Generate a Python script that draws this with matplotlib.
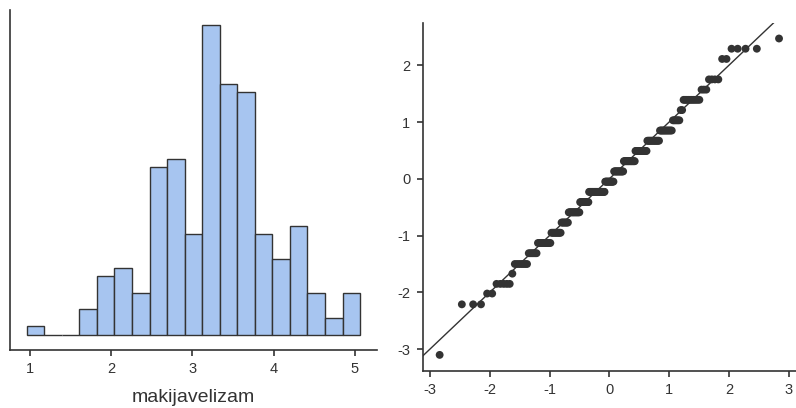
import numpy as np
import matplotlib
matplotlib.use("Agg")
import matplotlib.pyplot as plt
from statistics import NormalDist

plt.rcParams['font.family'] = ['Liberation Sans', 'DejaVu Sans']
plt.rcParams['axes.unicode_minus'] = False

# histogram of makijavelizam (counts per bin)
bin_lo, bin_hi = 0.963, 5.063
hist_counts = [1, 0, 0, 3, 7, 8, 5, 20, 21, 12, 37, 30, 29, 12, 9, 13, 5, 2, 5]

# Q-Q plot: standardized residual levels and how many cases sit on each
resid_levels = [-3.10, -2.21, -2.02, -1.85, -1.67, -1.50, -1.31, -1.13, -0.95,
                -0.77, -0.59, -0.41, -0.23, -0.05, 0.13, 0.31, 0.49, 0.67,
                0.85, 1.03, 1.21, 1.39, 1.57, 1.75, 2.11, 2.29, 2.47]
resid_counts = [1, 3, 2, 5, 1, 7, 6, 11, 10, 8, 14, 12, 23, 13, 14, 16, 15, 14,
                12, 6, 2, 10, 3, 4, 2, 4, 1]

hist_ticks = [1, 2, 3, 4, 5]
qq_ticks = [-3, -2, -1, 0, 1, 2, 3]
qq_yticks = [-3, -2, -1, 0, 1, 2]

dark = '#333333'
bar_fill = '#a7c5f0'

fig = plt.figure(figsize=(7.96, 4.08), dpi=100)
ax1 = fig.add_axes([0.0126, 0.1422, 0.4607, 0.8333])
ax2 = fig.add_axes([0.531, 0.0914, 0.469, 0.853])

# --- histogram ---
edges = np.linspace(bin_lo, bin_hi, len(hist_counts) + 1)
ax1.bar(edges[:-1], hist_counts, width=np.diff(edges), align='edge',
        color=bar_fill, edgecolor=dark, linewidth=1.0)
span = bin_hi - bin_lo
ax1.set_xlim(bin_lo - 0.05 * span, bin_hi + 0.05 * span)
top = max(hist_counts)
ax1.set_ylim(-0.05 * top, top * 1.05)
ax1.set_xticks(hist_ticks)
ax1.set_yticks([])
ax1.set_xlabel('makijavelizam', fontsize=14, color=dark, labelpad=9)

# --- Q-Q plot ---
sample = np.repeat(resid_levels, resid_counts)
n = len(sample)
theo = np.array([NormalDist().inv_cdf((i - 0.5) / n) for i in range(1, n + 1)])
ax2.scatter(theo, np.sort(sample), s=32, color=dark, edgecolors='none', zorder=3)
xr = theo.max() - theo.min()
yr = sample.max() - sample.min()
ax2.set_xlim(theo.min() - 0.05 * xr, theo.max() + 0.05 * xr)
ax2.set_ylim(sample.min() - 0.05 * yr, sample.max() + 0.05 * yr)
ax2.axline((0, 0), slope=1, color=dark, linewidth=1.0, zorder=2)
ax2.set_xticks(qq_ticks)
ax2.set_yticks(qq_yticks)

for ax in (ax1, ax2):
    for side in ('top', 'right'):
        ax.spines[side].set_visible(False)
    for side in ('left', 'bottom'):
        ax.spines[side].set_color(dark)
        ax.spines[side].set_linewidth(1.2)
    ax.tick_params(colors=dark, labelsize=10.5, length=4, width=1.2, pad=5)

fig.savefig('out.png', dpi=100)
